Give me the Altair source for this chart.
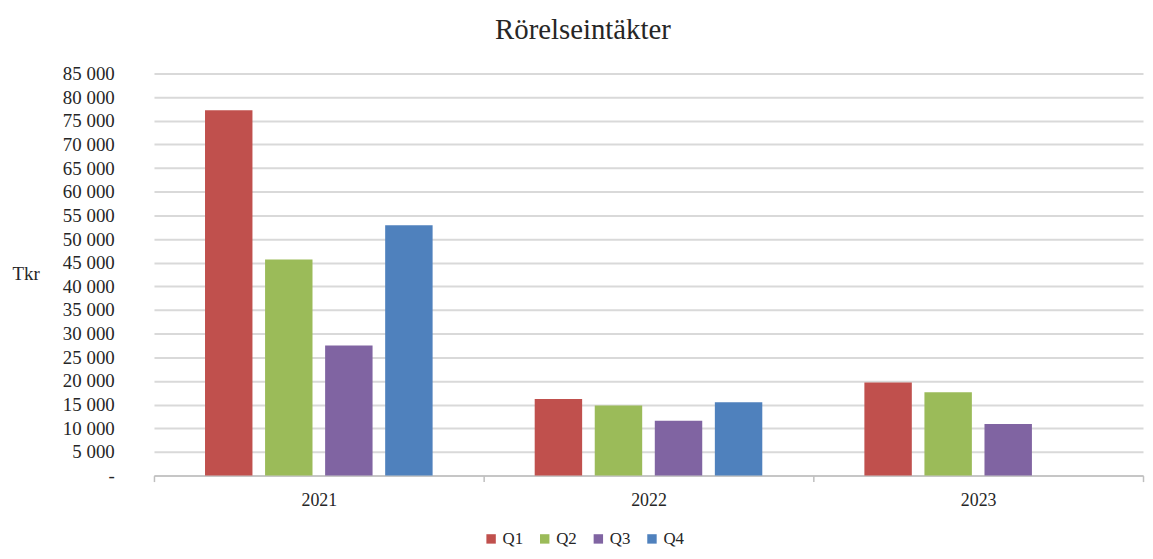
import altair as alt
import pandas as pd

# ---- data ----
title_text = "Rörelseintäkter"
years = ["2021", "2022", "2023"]
quarter_names = ["Q1", "Q2", "Q3", "Q4"]
q1_values = [77200, 16200, 19700]
q2_values = [45700, 14800, 17600]
q3_values = [27500, 11600, 10900]
q4_values = [52900, 15500, None]
quarter_colors = ["#c0504d", "#9bbb59", "#8064a2", "#4f81bd"]
y_ticks = list(range(0, 85001, 5000))

rows = []
for q, vals in zip(quarter_names, [q1_values, q2_values, q3_values, q4_values]):
    for y, v in zip(years, vals):
        if v is not None:
            rows.append({"year": y, "quarter": q, "value": v})
df = pd.DataFrame(rows)

FONT = "Liberation Serif"
TXT = "#262626"

bars = alt.Chart(df).mark_bar().encode(
    x=alt.X(
        "year:N",
        scale=alt.Scale(domain=years, paddingInner=0, paddingOuter=0),
        axis=alt.Axis(
            title=None, labelAngle=0, labelFontSize=18, labelFont=FONT,
            labelColor=TXT, tickBand="extent", tickSize=6, tickColor="#bfbfbf",
            tickWidth=1.5, domainColor="#bfbfbf", domainWidth=1.5,
            labelPadding=10, grid=False,
        ),
    ),
    xOffset=alt.XOffset(
        "quarter:N",
        scale=alt.Scale(domain=quarter_names, paddingInner=0.21, paddingOuter=0.85),
    ),
    y=alt.Y(
        "value:Q",
        scale=alt.Scale(domain=[0, 85000], nice=False),
        axis=alt.Axis(
            values=y_ticks,
            labelExpr="datum.value == 0 ? '-\u00a0\u00a0\u00a0' : replace(format(datum.value, ','), ',', ' ')",
            labelFontSize=19, labelFont=FONT, labelColor=TXT,
            ticks=False, tickSize=0, labelPadding=40, domain=False,
            grid=True, gridColor="#d9d9d9", gridWidth=2,
            title="Tkr", titleAngle=0, titleFont=FONT, titleFontSize=19,
            titleFontWeight="normal", titleColor=TXT, titleAlign="left",
            titleBaseline="middle", titleX=-143, titleY=202,
        ),
    ),
    color=alt.Color(
        "quarter:N",
        scale=alt.Scale(domain=quarter_names, range=quarter_colors),
        legend=alt.Legend(
            title=None, orient="none", legendX=331, legendY=460,
            direction="horizontal", symbolType="square", symbolSize=90,
            symbolStrokeWidth=0, labelFontSize=17, labelFont=FONT,
            labelColor=TXT, labelOffset=3, columnPadding=13,
        ),
    ),
)

title = alt.Chart(pd.DataFrame({"t": [title_text]})).mark_text(
    font=FONT, fontSize=29, color=TXT, align="center", baseline="alphabetic",
).encode(text="t:N", x=alt.value(432), y=alt.value(-35))

chart = alt.layer(bars, title).properties(
    width=996,
    height=405,
    autosize="none",
    padding={"left": 147, "top": 64, "right": 2, "bottom": 74},
).configure_view(stroke=None)

chart.save("out.html", embed_options={"renderer": "svg", "actions": False})
